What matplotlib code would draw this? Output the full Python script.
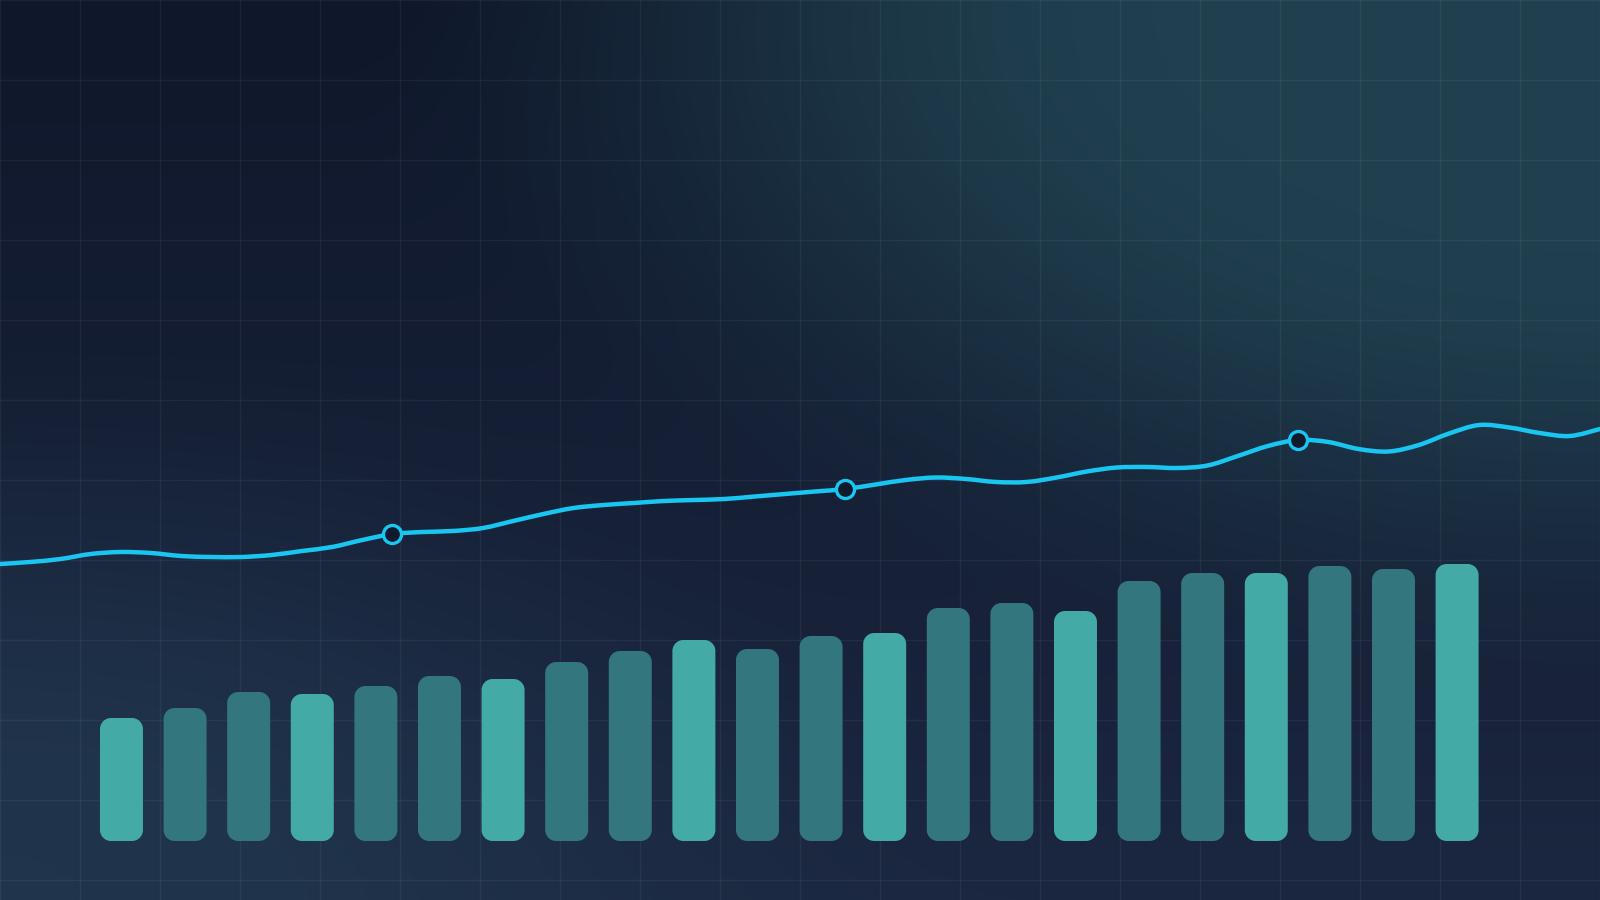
import numpy as np
import matplotlib
matplotlib.use("Agg")
import matplotlib.pyplot as plt
from matplotlib.patches import PathPatch
from matplotlib.path import Path
from matplotlib.colors import to_rgb

# bar heights (px-like units above the bar baseline), 22 periods
bar_values = [123, 133, 149, 147, 155, 165, 162, 179, 190, 201, 192,
              205, 208, 233, 238, 230, 260, 268, 268, 275, 272, 277]
# 1 = bright bar, 0 = muted bar
bar_tone = [1, 0, 0, 1, 0, 0, 1, 0, 0, 1, 0,
            0, 1, 0, 0, 1, 0, 0, 1, 0, 0, 1]

# trend line, 54 samples across the full width
line_values = [277, 279, 282, 287, 289, 288, 285, 284, 284, 286, 290,
               294, 301, 307, 309, 310, 313, 320, 327, 333, 336, 338,
               340, 341, 342, 344.5, 347, 349.5, 352, 356.5, 361, 363.5,
               362, 359, 359, 363.5, 369.5, 373.5, 374, 373, 375.5, 385,
               395, 401, 399, 392, 389.5, 396, 407.5, 416, 413.5, 408,
               405, 412]
marker_idx = [13, 28, 43]

LIGHT = "#43aaa6"
DARK = "#33767d"
LINE = "#19c6f1"


def smoothstep(a, b, x):
    t = np.clip((x - a) / (b - a), 0, 1)
    return t * t * (3 - 2 * t)


def background(w=1600, h=900):
    yy, xx = np.mgrid[0:h, 0:w]
    top = np.array(to_rgb("#0f172a"))
    bottom = np.array(to_rgb("#1b2740"))
    t = (yy / h)[..., None]
    img = top * (1 - t) + bottom * t

    # teal glow from the top right corner
    d = np.sqrt(((w - xx) / w) ** 2 + (yy / h) ** 2)
    g = (1 - smoothstep(0.28, 0.8, d))[..., None]
    img = img * (1 - g) + np.array(to_rgb("#20404f")) * g

    # blue glow from the bottom left corner
    d2 = np.sqrt((xx / w) ** 2 + ((h - yy) / h) ** 2)
    g2 = (1 - smoothstep(0.05, 0.65, d2))[..., None]
    img = img * (1 - g2) + np.array(to_rgb("#20354c")) * g2
    return np.clip(img, 0, 1)


# smooth path through the points (catmull-rom as cubic bezier)
def smooth_path(x, y):
    p = np.column_stack([x, y]).astype(float)
    p = np.vstack([p[0], p, p[-1]])
    verts = [p[1]]
    codes = [Path.MOVETO]
    for i in range(1, len(p) - 2):
        c1 = p[i] + (p[i + 1] - p[i - 1]) / 6
        c2 = p[i + 1] - (p[i + 2] - p[i]) / 6
        verts += [c1, c2, p[i + 1]]
        codes += [Path.CURVE4] * 3
    return Path(verts, codes)


# rectangle with circular corners, rx / ry given in data units
def rounded_bar(x0, y0, w, h, rx, ry):
    k = 0.5523
    x1, y1 = x0 + w, y0 + h
    verts = [
        (x0 + rx, y0),
        (x1 - rx, y0),
        (x1 - rx + k * rx, y0), (x1, y0 + ry - k * ry), (x1, y0 + ry),
        (x1, y1 - ry),
        (x1, y1 - ry + k * ry), (x1 - rx + k * rx, y1), (x1 - rx, y1),
        (x0 + rx, y1),
        (x0 + rx - k * rx, y1), (x0, y1 - ry + k * ry), (x0, y1 - ry),
        (x0, y0 + ry),
        (x0, y0 + ry - k * ry), (x0 + rx - k * rx, y0), (x0 + rx, y0),
        (x0 + rx, y0),
    ]
    codes = ([Path.MOVETO, Path.LINETO] + [Path.CURVE4] * 3 + [Path.LINETO]
             + [Path.CURVE4] * 3 + [Path.LINETO] + [Path.CURVE4] * 3
             + [Path.LINETO] + [Path.CURVE4] * 3 + [Path.CLOSEPOLY])
    return Path(verts, codes)


fig = plt.figure(figsize=(16, 9), dpi=100)

# background + 80px grid
ax_bg = fig.add_axes([0, 0, 1, 1])
ax_bg.imshow(background(), extent=(0, 1600, 900, 0), aspect="auto", zorder=0)
ax_bg.set_xlim(0, 1600)
ax_bg.set_ylim(900, 0)
ax_bg.set_xticks(np.arange(0, 1601, 80))
ax_bg.set_yticks(np.arange(0, 901, 80))
ax_bg.grid(True, color="white", alpha=0.05, linewidth=1.0)
ax_bg.tick_params(length=0, labelbottom=False, labelleft=False)
for s in ax_bg.spines.values():
    s.set_visible(False)

# bars
ax = fig.add_axes([0, 0, 1, 1])
ax.patch.set_alpha(0)
ax.set_xlim(-1.91, 23.247)
ax.set_ylim(-59, 841)
ax.axis("off")

x_px = 1600 / (ax.get_xlim()[1] - ax.get_xlim()[0])
y_px = 900 / (ax.get_ylim()[1] - ax.get_ylim()[0])
bar_w = 0.676
corner = 11  # px

for i, (v, tone) in enumerate(zip(bar_values, bar_tone)):
    path = rounded_bar(i - bar_w / 2, 0, bar_w, v, corner / x_px, corner / y_px)
    ax.add_patch(PathPatch(path, facecolor=LIGHT if tone else DARK,
                           edgecolor="none", zorder=2))

# line
ax_line = ax.twiny()
ax_line.set_xlim(0, len(line_values) - 1)
ax_line.axis("off")
xs = np.arange(len(line_values))
curve = PathPatch(smooth_path(xs, line_values), facecolor="none",
                  edgecolor=LINE, linewidth=3.2, capstyle="round",
                  joinstyle="round", zorder=3)
ax_line.add_patch(curve)
ax_line.plot(xs[marker_idx], [line_values[i] for i in marker_idx],
             linestyle="none", marker="o", markersize=13,
             markerfacecolor="#101a2c", markeredgecolor=LINE,
             markeredgewidth=2.4, zorder=4)

fig.savefig("out.png", dpi=100)
